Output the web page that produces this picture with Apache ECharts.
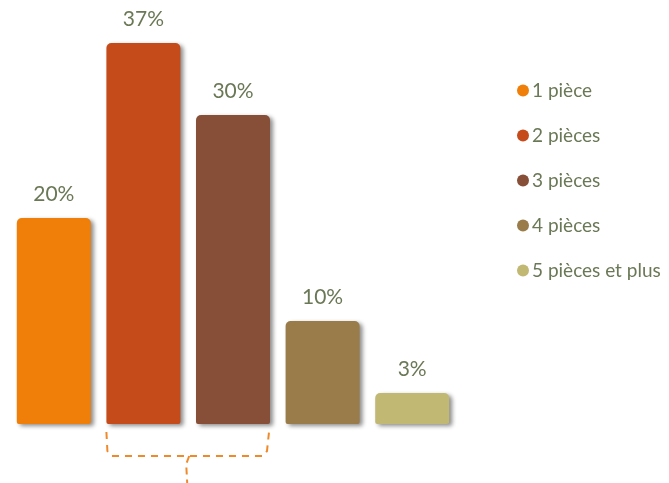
<!DOCTYPE html>
<html>
<head>
<meta charset="utf-8">
<script src="https://cdn.jsdelivr.net/npm/echarts@6/dist/echarts.min.js"></script>
<style>
  html, body { margin: 0; padding: 0; background: #ffffff; }
  #chart { width: 669px; height: 483px; }
</style>
</head>
<body>
<div id="chart"></div>
<script>
// Répartition des logements par nombre de pièces (%)
const categories = ['1 pièce', '2 pièces', '3 pièces', '4 pièces', '5 pièces et plus'];
const values = [20, 37, 30, 10, 3];
const colors = ['#f07f09', '#c54c1a', '#874f37', '#9a7c4a', '#c1b874'];
const groupedCategories = [1, 2]; // indices soulignés par l'accolade

const chart = echarts.init(document.getElementById('chart'));
const textColor = '#6a7856';
const fontFamily = 'Lato, "Open Sans", sans-serif';

// One series per category so each gets its own legend entry
const series = categories.map((name, i) => ({
  name: name,
  type: 'bar',
  stack: 'total',
  barWidth: 74,
  data: values.map((v, j) => (j === i ? v : '-')),
  itemStyle: {
    color: colors[i],
    borderRadius: [5, 5, 2, 2],
    shadowColor: 'rgba(0,0,0,0.45)',
    shadowBlur: 4,
    shadowOffsetX: 3,
    shadowOffsetY: 2
  },
  label: {
    show: true,
    position: 'top',
    distance: 13,
    formatter: '{c}%',
    color: textColor,
    fontSize: 21,
    fontFamily: fontFamily
  }
}));

chart.setOption({
  animation: false,
  grid: { left: 9, top: 43, width: 448, bottom: 59, containLabel: false },
  legend: {
    orient: 'vertical',
    left: 512,
    top: 75,
    itemGap: 24,
    itemWidth: 12,
    itemHeight: 12,
    icon: 'circle',
    data: categories,
    textStyle: { color: textColor, fontSize: 19, lineHeight: 21, fontFamily: fontFamily, padding: [0, 0, 0, -2] }
  },
  xAxis: {
    type: 'category',
    data: categories,
    axisLine: { show: false },
    axisTick: { show: false },
    axisLabel: { show: false }
  },
  yAxis: {
    type: 'value',
    min: 0,
    max: 37,
    show: false,
    splitLine: { show: false }
  },
  series: series
});

// Dashed brace under the grouped bars, placed from the axis scale
const halfBar = 37;
const leftPx = chart.convertToPixel({ xAxisIndex: 0 }, groupedCategories[0]) - halfBar;
const rightPx = chart.convertToPixel({ xAxisIndex: 0 }, groupedCategories[groupedCategories.length - 1]) + halfBar;
const basePx = chart.convertToPixel({ yAxisIndex: 0 }, 0);
const topY = basePx + 8;
const lineY = basePx + 32;
const midX = (leftPx + rightPx) / 2;

chart.setOption({
  graphic: [{
    type: 'polyline',
    shape: {
      points: [
        [leftPx, topY], [leftPx + 1, lineY - 5], [leftPx + 5, lineY],
        [rightPx - 7, lineY], [rightPx - 3, lineY - 5], [rightPx - 1, topY]
      ]
    },
    style: { stroke: '#f0892a', lineWidth: 2, lineDash: [7, 6], fill: null }
  }, {
    type: 'polyline',
    shape: {
      points: [[midX + 1, lineY], [midX - 2, lineY + 8], [midX - 1, 483]]
    },
    style: { stroke: '#f0892a', lineWidth: 2, lineDash: [7, 5], fill: null }
  }]
});
</script>
</body>
</html>
